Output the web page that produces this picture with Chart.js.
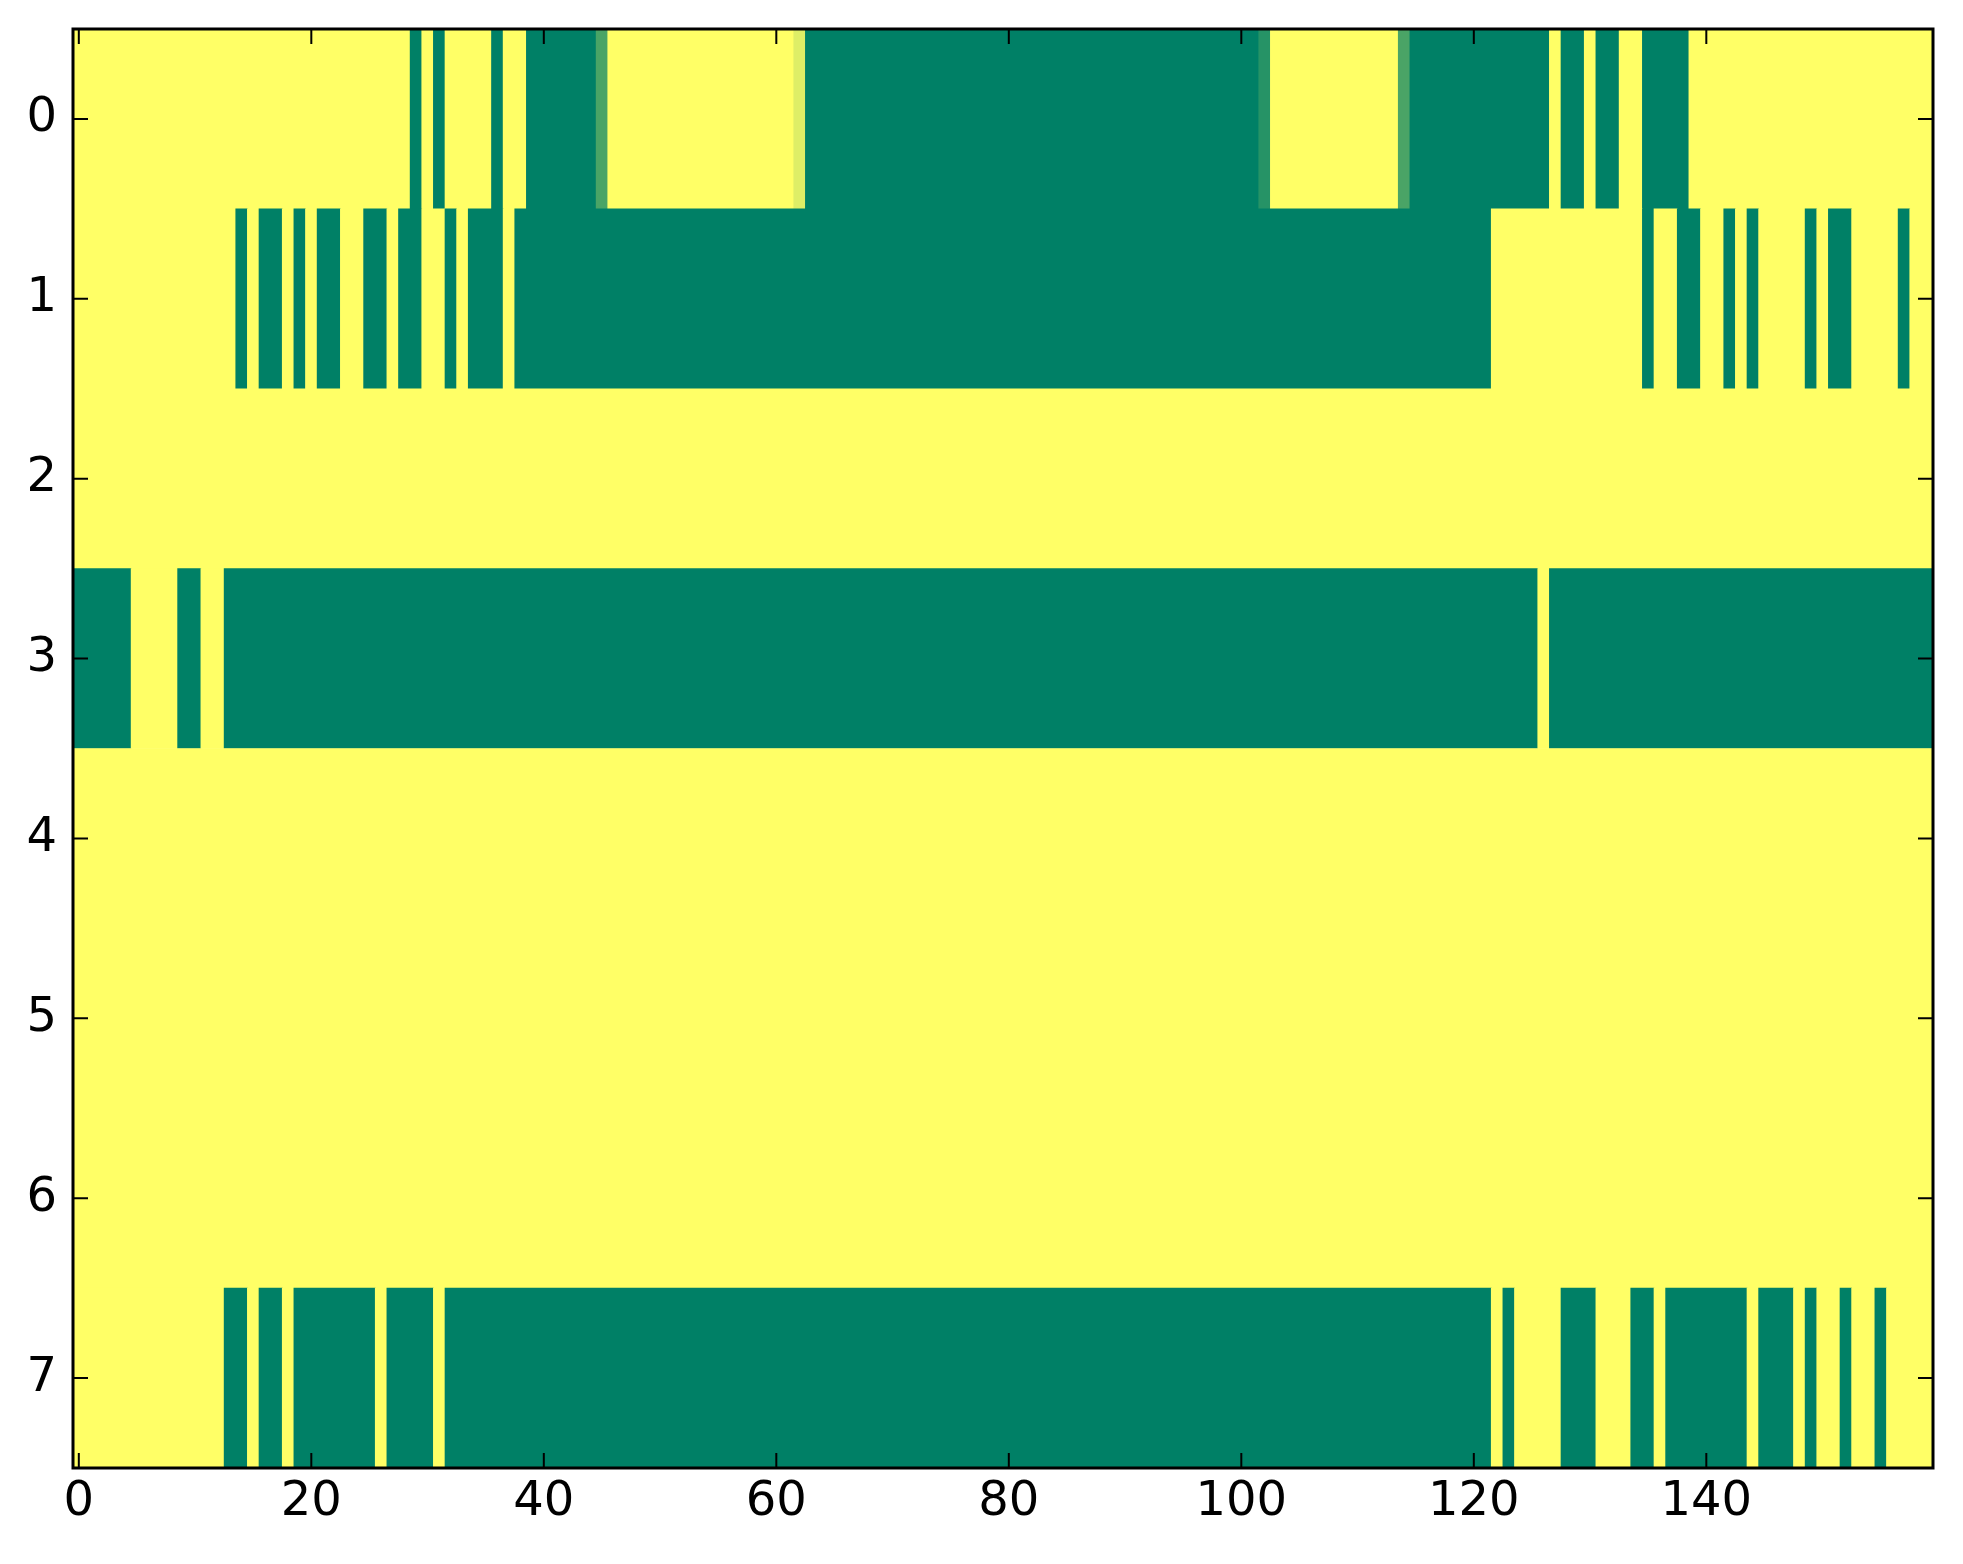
<!DOCTYPE html>
<html>
<head>
<meta charset="utf-8">
<script src="https://cdn.jsdelivr.net/npm/chart.js@4.4.0/dist/chart.umd.min.js"></script>
<style>
  body { margin: 0; background: #fff; }
  #wrap { width: 1963px; height: 1564px; position: relative; }
</style>
</head>
<body>
<div id="wrap"><canvas id="chart"></canvas></div>
<script>
// rows of the grid, written as runs of [value, number of columns]
// value 0 = green, 1 = yellow (summer colour map)
const rowLabels = ['0', '1', '2', '3', '4', '5', '6', '7'];
const xTicks = [0, 20, 40, 60, 80, 100, 120, 140];
const nCols = 160;

const row0 = [[1, 29], [0, 1], [1, 1], [0, 1], [1, 4], [0, 1], [1, 2], [0, 6], [0.29, 1], [1, 16],
  [0.87, 1], [0, 39], [0.15, 1], [1, 11], [0.29, 1], [0, 12], [1, 1], [0, 2], [1, 1], [0, 2],
  [1, 2], [0, 4], [1, 21]];
const row1 = [[1, 14], [0, 1], [1, 1], [0, 2], [1, 1], [0, 1], [1, 1], [0, 2], [1, 2], [0, 2],
  [1, 1], [0, 2], [1, 2], [0, 1], [1, 1], [0, 3], [1, 1], [0, 84], [1, 13], [0, 1], [1, 2],
  [0, 2], [1, 2], [0, 1], [1, 1], [0, 1], [1, 4], [0, 1], [1, 1], [0, 2], [1, 4], [0, 1], [1, 2]];
const row2 = [[1, 160]];
const row3 = [[0, 5], [1, 4], [0, 2], [1, 2], [0, 113], [1, 1], [0, 33]];
const row4 = [[1, 160]];
const row5 = [[1, 160]];
const row6 = [[1, 160]];
const row7 = [[1, 13], [0, 2], [1, 1], [0, 2], [1, 1], [0, 7], [1, 1], [0, 4], [1, 1], [0, 90],
  [1, 1], [0, 1], [1, 4], [0, 3], [1, 3], [0, 2], [1, 1], [0, 7], [1, 1], [0, 3], [1, 1], [0, 1],
  [1, 2], [0, 1], [1, 2], [0, 1], [1, 4]];

const rows = [row0, row1, row2, row3, row4, row5, row6, row7];

// matplotlib "summer": r = v, g = 0.5 + 0.5v, b = 0.4
function summer(v) {
  let r = Math.round(255 * v);
  let g = Math.round(255 * (0.5 + 0.5 * v));
  return `rgb(${r}, ${g}, 102)`;
}

let cells = [];
let cellColors = [];
for (let i = 0; i < rows.length; i++) {
  let col = 0;
  for (let j = 0; j < rows[i].length; j++) {
    let run = rows[i][j];
    cells.push({ x: [col - 0.5, col + run[1] - 0.5], y: rowLabels[i] });
    cellColors.push(summer(run[0]));
    col += run[1];
  }
}

// black frame and inward ticks on all four sides
const frame = {
  id: 'frame',
  afterDraw(chart) {
    let ctx = chart.ctx;
    let a = chart.chartArea;
    let xs = chart.scales.x;
    let ys = chart.scales.y;
    ctx.save();
    ctx.strokeStyle = '#000';
    ctx.lineWidth = 2;
    ctx.beginPath();
    for (let v of xTicks) {
      let px = xs.getPixelForValue(v);
      ctx.moveTo(px, a.bottom);
      ctx.lineTo(px, a.bottom - 15);
      ctx.moveTo(px, a.top);
      ctx.lineTo(px, a.top + 15);
    }
    for (let i = 0; i < rowLabels.length; i++) {
      let py = ys.getPixelForValue(i);
      ctx.moveTo(a.left, py);
      ctx.lineTo(a.left + 15, py);
      ctx.moveTo(a.right, py);
      ctx.lineTo(a.right - 15, py);
    }
    ctx.stroke();
    ctx.lineWidth = 3;
    ctx.strokeRect(a.left, a.top, a.right - a.left, a.bottom - a.top);
    ctx.restore();
  }
};

const tickFont = { family: 'DejaVu Sans', size: 48 };

new Chart(document.getElementById('chart'), {
  type: 'bar',
  data: {
    labels: rowLabels,
    datasets: [{
      data: cells,
      backgroundColor: cellColors,
      borderWidth: 0,
      barPercentage: 1,
      categoryPercentage: 1,
      grouped: false
    }]
  },
  options: {
    indexAxis: 'y',
    responsive: true,
    maintainAspectRatio: false,
    animation: false,
    devicePixelRatio: 1,
    layout: { padding: { top: 29, right: 30, left: 0, bottom: 0 } },
    plugins: {
      legend: { display: false },
      tooltip: { enabled: false }
    },
    scales: {
      x: {
        type: 'linear',
        position: 'bottom',
        min: -0.5,
        max: nCols - 0.5,
        grid: { display: false, drawTicks: false },
        border: { display: false },
        afterBuildTicks: (s) => { s.ticks = xTicks.map(v => ({ value: v })); },
        afterFit: (s) => { s.height = 96; s.paddingLeft = 0; s.paddingRight = 0; },
        ticks: { font: tickFont, color: '#000', padding: 6, maxRotation: 0, autoSkip: false }
      },
      y: {
        type: 'category',
        offset: true,
        grid: { display: false, drawTicks: false },
        border: { display: false },
        afterFit: (s) => { s.width = 73; s.paddingTop = 0; s.paddingBottom = 0; },
        ticks: { font: tickFont, color: '#000', padding: 16 }
      }
    }
  },
  plugins: [frame]
});
</script>
</body>
</html>
